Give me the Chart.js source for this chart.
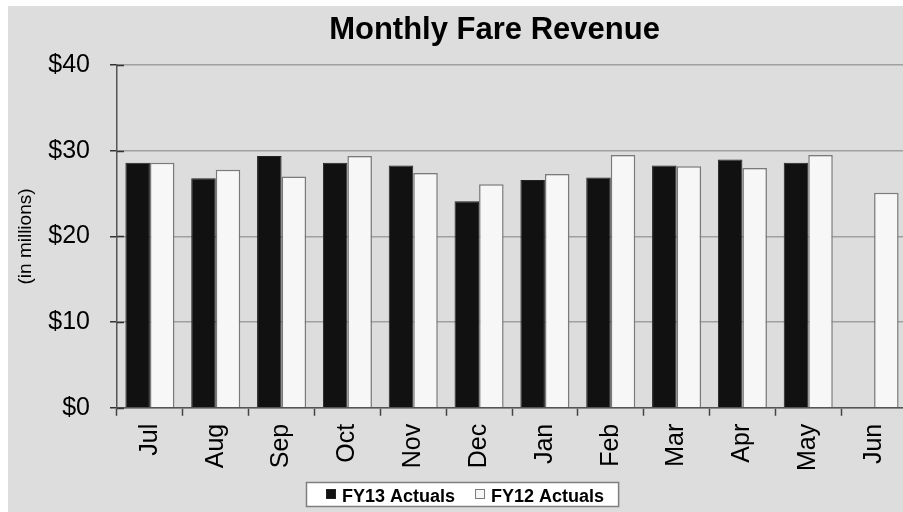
<!DOCTYPE html>
<html>
<head>
<meta charset="utf-8">
<script src="https://cdn.jsdelivr.net/npm/chart.js@4/dist/chart.umd.min.js"></script>
<style>
  html, body { margin: 0; padding: 0; background: #ffffff; overflow: hidden; width: 903px; height: 512px; }
  #wrap { position: absolute; left: 8px; top: 6px; width: 968px; height: 506px; background: #dddddd; }
  canvas { display: block; }
</style>
</head>
<body>
<div id="wrap"><canvas id="c" width="968" height="506" style="width:968px;height:506px"></canvas></div>
<script>
const months = ['Jul', 'Aug', 'Sep', 'Oct', 'Nov', 'Dec', 'Jan', 'Feb', 'Mar', 'Apr', 'May', 'Jun'];
const fy13Actuals = [28.6, 26.8, 29.4, 28.6, 28.3, 24.1, 26.6, 26.9, 28.3, 29.0, 28.6, null];
const fy12Actuals = [28.6, 27.8, 27.0, 29.4, 27.4, 26.1, 27.3, 29.5, 28.2, 28.0, 29.5, 25.1];
const seriesLabels = ['FY13 Actuals', 'FY12 Actuals'];
const yTickValues = [0, 10, 20, 30, 40];
const chartTitle = 'Monthly Fare Revenue';
const yAxisTitle = '(in millions)';

const FONT = '"Liberation Sans", Arial, Helvetica, sans-serif';

const innerTicks = {
  id: 'innerTicks',
  afterDatasetsDraw(chart) {
    const y = chart.scales.y, ctx = chart.ctx, left = chart.chartArea.left;
    ctx.save();
    ctx.strokeStyle = '#333333';
    ctx.lineWidth = 1.5;
    yTickValues.forEach(v => {
      const py = Math.round(y.getPixelForValue(v)) + 0.5;
      ctx.beginPath();
      ctx.moveTo(left, py);
      ctx.lineTo(left + 7, py);
      ctx.stroke();
    });
    ctx.restore();
  }
};

const legendBox = {
  id: 'legendBox',
  afterDraw(chart) {
    const ctx = chart.ctx;
    ctx.save();
    ctx.font = 'bold 18px ' + FONT;
    const boxLeft = 298, boxTop = 476, boxH = 24;
    const sq = 10, gap = 6, itemGap = 20, padL = 20, padR = 14;
    const items = chart.data.datasets.map(ds => ({
      text: ds.label, fill: ds.backgroundColor, stroke: ds.borderColor,
      w: ctx.measureText(ds.label).width
    }));
    let total = padL + padR;
    items.forEach((it, i) => { total += sq + gap + it.w + (i ? itemGap : 0); });
    ctx.fillStyle = '#ffffff';
    ctx.fillRect(boxLeft, boxTop, total, boxH);
    ctx.strokeStyle = '#7f7f7f';
    ctx.lineWidth = 1.5;
    ctx.strokeRect(boxLeft + 0.5, boxTop + 0.5, total, boxH);
    let x = boxLeft + padL;
    const baseline = boxTop + 19.5;
    items.forEach((it, i) => {
      if (i) x += itemGap;
      ctx.fillStyle = it.fill;
      ctx.fillRect(x, boxTop + 7, sq, sq);
      ctx.strokeStyle = it.stroke;
      ctx.lineWidth = 1;
      ctx.strokeRect(x + 0.5, boxTop + 7.5, sq - 1, sq - 1);
      x += sq + gap;
      ctx.fillStyle = '#000000';
      ctx.textBaseline = 'alphabetic';
      ctx.textAlign = 'left';
      ctx.fillText(it.text, x, baseline);
      x += it.w;
    });
    ctx.restore();
  }
};

new Chart(document.getElementById('c'), {
  type: 'bar',
  data: {
    labels: months,
    datasets: [
      { label: seriesLabels[0], data: fy13Actuals, backgroundColor: '#111111', borderColor: '#222222', borderWidth: 1 },
      { label: seriesLabels[1], data: fy12Actuals, backgroundColor: '#f7f7f7', borderColor: '#7a7a7a', borderWidth: 1.5 }
    ]
  },
  options: {
    responsive: false,
    animation: false,
    devicePixelRatio: 1,
    layout: { padding: { left: 5, right: 0, top: 0, bottom: 33 } },
    datasets: { bar: { categoryPercentage: 0.745, barPercentage: 1.0 } },
    plugins: {
      legend: { display: false },
      tooltip: { enabled: false },
      title: {
        display: true,
        text: chartTitle,
        color: '#000000',
        font: { family: FONT, size: 31, weight: 'bold' },
        padding: { top: 6, bottom: 16 }
      }
    },
    scales: {
      x: {
        grid: { display: true, drawOnChartArea: false, drawTicks: true, tickLength: 8, tickColor: '#444444', tickWidth: 1.5 },
        border: { display: true, color: '#555555', width: 1.5 },
        ticks: { color: '#000000', font: { family: FONT, size: 25 }, minRotation: 90, maxRotation: 90, autoSkip: false, padding: 8 }
      },
      y: {
        min: 0, max: 40,
        afterBuildTicks: (s) => { s.ticks = yTickValues.map(v => ({ value: v })); },
        afterFit: (s) => { s.width = 104; },
        grid: { color: '#a0a0a0', lineWidth: 1.5, drawTicks: true, tickLength: 7, tickColor: '#333333', tickWidth: 1.5 },
        border: { display: true, color: '#555555', width: 1.5 },
        ticks: { color: '#000000', font: { family: FONT, size: 25 }, padding: 20, callback: (v) => '$' + v },
        title: { display: true, text: yAxisTitle, color: '#000000', font: { family: FONT, size: 19 }, padding: { top: 1, bottom: 11 } }
      },
      y2: {
        position: 'right',
        display: true,
        grid: { display: false, drawTicks: false },
        border: { display: false },
        ticks: { display: false },
        afterFit: (s) => { s.width = 69; }
      }
    }
  },
  plugins: [innerTicks, legendBox]
});
</script>
</body>
</html>
